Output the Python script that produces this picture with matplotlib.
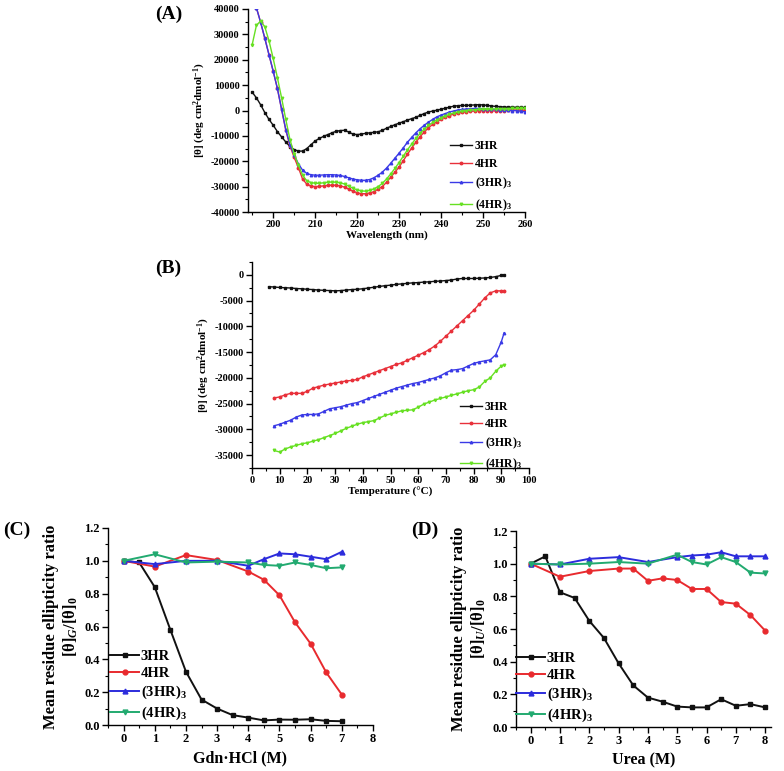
import matplotlib
matplotlib.use("Agg")
import matplotlib.pyplot as plt
from matplotlib.ticker import MultipleLocator

plt.rcParams['font.family'] = ['Liberation Serif', 'DejaVu Serif']
plt.rcParams['font.weight'] = 'bold'
plt.rcParams['axes.labelweight'] = 'bold'
plt.rcParams['mathtext.fontset'] = 'custom'
plt.rcParams['mathtext.rm'] = 'Liberation Serif:bold'
plt.rcParams['mathtext.it'] = 'Liberation Serif:italic:bold'
plt.rcParams['mathtext.bf'] = 'Liberation Serif:bold'
plt.rcParams['axes.unicode_minus'] = False

# ---------------- Panel A: CD spectra ----------------
wavelength = list(range(195, 261))
cd_3HR = [7200, 5000, 2300, -800, -3500, -5800, -8300, -10400, -12400, -14200,
          -15400, -16000, -16000, -15000, -13500, -12000, -11000, -10200, -9500, -8800,
          -8200, -7900, -7800, -8500, -9300, -9500, -9300, -9000, -8800, -8600,
          -8400, -7800, -7000, -6300, -5600, -5000, -4400, -3800, -3200, -2700,
          -1900, -1200, -600, -200, 100, 500, 900, 1300, 1700, 1900,
          2000, 2000, 2100, 2200, 2300, 2200, 2000, 1800, 1600, 1500,
          1400, 1300, 1300, 1300, 1200, 1200]
cd_4HR = [None, 40500, 34800, 28500, 22000, 15500, 8700, 500, -7700, -14000,
          -18500, -22500, -27000, -29000, -29800, -30000, -29900, -29700, -29500, -29400,
          -29500, -29700, -30200, -31000, -31800, -32400, -32800, -32800, -32500, -32000,
          -31000, -30000, -28300, -26300, -24300, -22300, -19800, -17200, -14800, -12500,
          -10300, -8500, -6800, -5500, -4500, -3400, -2600, -2000, -1400, -1000,
          -700, -500, -300, -200, 0, 0, 0, -100, -200, -100,
          0, 100, 200, 200, 200, 100]
cd_3HR3 = [None, 40500, 34800, 28500, 22000, 15500, 8700, 500, -7500, -13500,
           -17500, -21000, -23500, -24800, -25300, -25500, -25500, -25400, -25300, -25300,
           -25400, -25600, -26000, -26500, -27000, -27300, -27500, -27500, -27200, -26500,
           -25500, -24300, -22700, -20800, -18800, -16800, -14700, -12500, -10600, -8800,
           -7200, -5800, -4600, -3500, -2500, -1800, -1200, -600, -200, 200,
           400, 600, 700, 800, 800, 700, 600, 500, 400, 300,
           200, 100, 0, -100, -300, -500]
cd_4HR3 = [26000, 33500, 35300, 33000, 27500, 20500, 13000, 5000, -3500, -11500,
           -17000, -21500, -25500, -27700, -28400, -28700, -28700, -28500, -28300, -28200,
           -28300, -28500, -29000, -29800, -30600, -31300, -31700, -31800, -31500, -30900,
           -30000, -28700, -27000, -25000, -22800, -20500, -18000, -15500, -13200, -11000,
           -9000, -7300, -5900, -4700, -3700, -2800, -2100, -1500, -1000, -600,
           -300, 0, 200, 300, 400, 500, 500, 600, 600, 700,
           700, 700, 800, 800, 800, 800]

# ---------------- Panel B: thermal melts ----------------
temp_3HR = list(range(6, 91, 2)) + [91]
temp_other = list(range(8, 91, 2)) + [91]
tm_3HR = [-2300, -2350, -2450, -2500, -2550, -2650, -2700, -2800, -2850, -2950,
          -3000, -3050, -3100, -3050, -2950, -2850, -2800, -2700, -2550, -2400,
          -2250, -2100, -2000, -1850, -1750, -1650, -1550, -1500, -1400, -1350,
          -1250, -1200, -1100, -1000, -800, -700, -700, -700, -650, -600,
          -500, -350, -100, 0]
tm_4HR = [-23900, -23700, -23300, -23000, -23000, -23000, -22600, -22000, -21700, -21400,
          -21200, -21000, -20800, -20600, -20500, -20300, -19800, -19400, -19000, -18600,
          -18200, -17800, -17400, -17100, -16600, -16100, -15600, -15100, -14500, -13800,
          -12900, -11900, -10900, -9900, -8900, -7900, -6900, -5700, -4500, -3500,
          -3100, -3100, -3200]
tm_3HR3 = [-29300, -29000, -28600, -28200, -27600, -27200, -27100, -27100, -27000, -26500,
           -26000, -25800, -25600, -25300, -25000, -24800, -24400, -24000, -23600, -23200,
           -22800, -22400, -22000, -21700, -21400, -21100, -20900, -20600, -20300, -20000,
           -19600, -19000, -18500, -18400, -18200, -17700, -17200, -16900, -16700, -16500,
           -15500, -13000, -11300]
tm_4HR3 = [-34100, -34400, -33800, -33400, -33100, -32800, -32600, -32300, -32000, -31600,
           -31200, -30800, -30300, -29800, -29400, -29000, -28700, -28500, -28300, -27800,
           -27300, -27000, -26700, -26400, -26300, -26200, -25700, -25100, -24700, -24300,
           -24000, -23700, -23400, -23100, -22800, -22500, -22300, -21800, -20700, -20000,
           -18700, -17700, -17500]

# ---------------- Panel C: Gdn.HCl denaturation ----------------
gdn_x_3HR = [0, 0.5, 1, 1.5, 2, 2.5, 3, 3.5, 4, 4.5, 5, 5.5, 6, 6.5, 7]
gdn_3HR = [1.0, 0.99, 0.84, 0.58, 0.325, 0.155, 0.10, 0.06, 0.045, 0.028, 0.033, 0.032, 0.035, 0.025, 0.023]
gdn_x = [0, 1, 2, 3, 4, 4.5, 5, 5.5, 6, 6.5, 7]
gdn_4HR = [1.0, 0.965, 1.035, 1.005, 0.935, 0.885, 0.79, 0.625, 0.495, 0.32, 0.185]
gdn_3HR3 = [1.0, 0.98, 1.0, 1.0, 0.97, 1.01, 1.045, 1.04, 1.025, 1.01, 1.055]
gdn_4HR3 = [1.0, 1.04, 0.99, 0.995, 0.99, 0.975, 0.97, 0.99, 0.975, 0.955, 0.96]

# ---------------- Panel D: Urea denaturation ----------------
urea_x_3HR = [0, 0.5, 1, 1.5, 2, 2.5, 3, 3.5, 4, 4.5, 5, 5.5, 6, 6.5, 7, 7.5, 8]
urea_3HR = [1.0, 1.045, 0.825, 0.79, 0.65, 0.545, 0.39, 0.255, 0.18, 0.155, 0.125, 0.12, 0.12, 0.17, 0.13, 0.14, 0.12]
urea_x_4HR = [0, 1, 2, 3, 3.5, 4, 4.5, 5, 5.5, 6, 6.5, 7, 7.5, 8]
urea_4HR = [1.0, 0.92, 0.955, 0.97, 0.97, 0.895, 0.91, 0.90, 0.845, 0.845, 0.765, 0.755, 0.685, 0.59]
urea_x = [0, 1, 2, 3, 4, 5, 5.5, 6, 6.5, 7, 7.5, 8]
urea_3HR3 = [1.0, 0.995, 1.03, 1.04, 1.01, 1.04, 1.05, 1.055, 1.07, 1.045, 1.045, 1.045]
urea_4HR3 = [1.0, 0.995, 1.0, 1.01, 1.0, 1.055, 1.01, 0.995, 1.04, 1.01, 0.945, 0.94]

labels = ['3HR', '4HR', '(3HR)$_3$', '(4HR)$_3$']
colors_ab = ['#111111', '#e8303a', '#3a3ae6', '#66e022']
markers_ab = ['s', 'o', '^', 'v']
colors_cd = ['#111111', '#e82a2e', '#2c2cdc', '#22aa70']
markers_cd = ['s', 'o', '^', 'v']

W, H = 784, 771
fig = plt.figure(figsize=(W / 100, H / 100), dpi=100)


def ax_at(l, r, t, b):
    return fig.add_axes([l / W, 1 - b / H, (r - l) / W, (b - t) / H])


def style(ax, fs):
    for s in ['top', 'right']:
        ax.spines[s].set_visible(False)
    for s in ['left', 'bottom']:
        ax.spines[s].set_linewidth(1.0)
    ax.tick_params(which='major', direction='out', length=4, width=1, labelsize=fs, pad=2)
    ax.tick_params(which='minor', direction='out', length=2, width=0.8)
    for lab in ax.get_xticklabels() + ax.get_yticklabels():
        lab.set_fontweight('bold')


# Panel A
axA = ax_at(248, 525, 9, 212)
for ys, c, m, lab in zip([cd_3HR, cd_4HR, cd_3HR3, cd_4HR3], colors_ab, markers_ab, labels):
    xs = [w for w, v in zip(wavelength, ys) if v is not None]
    vs = [v for v in ys if v is not None]
    axA.plot(xs, vs, color=c, lw=1.0, marker=m, ms=1.8, mec=c, mfc=c, label=lab)
axA.set_xlim(194, 260)
axA.set_ylim(-40000, 40000)
axA.xaxis.set_major_locator(MultipleLocator(10))
axA.xaxis.set_minor_locator(MultipleLocator(5))
axA.yaxis.set_major_locator(MultipleLocator(10000))
axA.yaxis.set_minor_locator(MultipleLocator(5000))
style(axA, 7.5)
axA.set_xlabel('Wavelength (nm)', fontsize=8, labelpad=1)
axA.set_ylabel('[θ] (deg cm$^2$dmol$^{-1}$)', fontsize=8, labelpad=2)
axA.legend(loc='upper left', bbox_to_anchor=(450 / W, 1 - 140 / H), bbox_transform=fig.transFigure,
           frameon=False, fontsize=8.5, handlelength=1.9, handletextpad=0.2, labelspacing=0.5,
           borderaxespad=0, borderpad=0)
fig.text(155 / W, 1 - 14 / H, '(A)', fontsize=14, fontweight='bold', va='center', ha='left')

# Panel B
axB = ax_at(252, 529, 262, 468)
for xs, ys, c, m, lab in zip([temp_3HR, temp_other, temp_other, temp_other],
                             [tm_3HR, tm_4HR, tm_3HR3, tm_4HR3], colors_ab, markers_ab, labels):
    axB.plot(xs, ys, color=c, lw=1.0, marker=m, ms=1.8, mec=c, mfc=c, label=lab)
axB.set_xlim(0, 100)
axB.set_ylim(-37500, 2500)
axB.xaxis.set_major_locator(MultipleLocator(10))
axB.xaxis.set_minor_locator(MultipleLocator(5))
axB.yaxis.set_major_locator(MultipleLocator(5000))
axB.yaxis.set_minor_locator(MultipleLocator(2500))
style(axB, 7.5)
axB.set_xlabel('Temperature (°C)', fontsize=8, labelpad=1)
axB.set_ylabel('[θ] (deg cm$^2$dmol$^{-1}$)', fontsize=8, labelpad=2)
axB.legend(loc='upper left', bbox_to_anchor=(460 / W, 1 - 401 / H), bbox_transform=fig.transFigure,
           frameon=False, fontsize=8.5, handlelength=1.9, handletextpad=0.2, labelspacing=0.45,
           borderaxespad=0, borderpad=0)
fig.text(155 / W, 1 - 268 / H, '(B)', fontsize=14, fontweight='bold', va='center', ha='left')

# Panel C
axC = ax_at(108, 373, 528, 725)
for xs, ys, c, m, lab in zip([gdn_x_3HR, gdn_x, gdn_x, gdn_x],
                             [gdn_3HR, gdn_4HR, gdn_3HR3, gdn_4HR3], colors_cd, markers_cd, labels):
    axC.plot(xs, ys, color=c, lw=1.4, marker=m, ms=3.5, mec=c, mfc=c, label=lab)
axC.set_xlim(-0.5, 8)
axC.set_ylim(0, 1.2)
axC.xaxis.set_major_locator(MultipleLocator(1))
axC.xaxis.set_minor_locator(MultipleLocator(0.5))
axC.yaxis.set_major_locator(MultipleLocator(0.2))
axC.yaxis.set_minor_locator(MultipleLocator(0.1))
axC.yaxis.set_major_formatter(matplotlib.ticker.FormatStrFormatter('%.1f'))
style(axC, 9)
axC.set_xlabel('Gdn·HCl (M)', fontsize=11.5, labelpad=4)
axC.set_ylabel('Mean residue ellipticity ratio\n[θ]$_G$/[θ]$_0$', fontsize=12, labelpad=3, linespacing=1.2)
axC.legend(loc='upper left', bbox_to_anchor=(110 / W, 1 - 650 / H), bbox_transform=fig.transFigure,
           frameon=False, fontsize=10.5, handlelength=2.0, handletextpad=0.1, labelspacing=0.25,
           borderaxespad=0, borderpad=0)
fig.text(3 / W, 1 - 530 / H, '(C)', fontsize=14, fontweight='bold', va='center', ha='left')

# Panel D
axD = ax_at(516, 771, 531, 727)
for xs, ys, c, m, lab in zip([urea_x_3HR, urea_x_4HR, urea_x, urea_x],
                             [urea_3HR, urea_4HR, urea_3HR3, urea_4HR3], colors_cd, markers_cd, labels):
    axD.plot(xs, ys, color=c, lw=1.4, marker=m, ms=3.5, mec=c, mfc=c, label=lab)
axD.set_xlim(-0.5, 8.2)
axD.set_ylim(0, 1.2)
axD.xaxis.set_major_locator(MultipleLocator(1))
axD.xaxis.set_minor_locator(MultipleLocator(0.5))
axD.yaxis.set_major_locator(MultipleLocator(0.2))
axD.yaxis.set_minor_locator(MultipleLocator(0.1))
axD.yaxis.set_major_formatter(matplotlib.ticker.FormatStrFormatter('%.1f'))
style(axD, 9)
axD.set_xlabel('Urea (M)', fontsize=11.5, labelpad=4)
axD.set_ylabel('Mean residue ellipticity ratio\n[θ]$_U$/[θ]$_0$', fontsize=12, labelpad=3, linespacing=1.2)
axD.legend(loc='upper left', bbox_to_anchor=(516 / W, 1 - 652 / H), bbox_transform=fig.transFigure,
           frameon=False, fontsize=10.5, handlelength=2.0, handletextpad=0.1, labelspacing=0.25,
           borderaxespad=0, borderpad=0)
fig.text(411 / W, 1 - 530 / H, '(D)', fontsize=14, fontweight='bold', va='center', ha='left')

fig.savefig('out.png', dpi=100, facecolor='white')
